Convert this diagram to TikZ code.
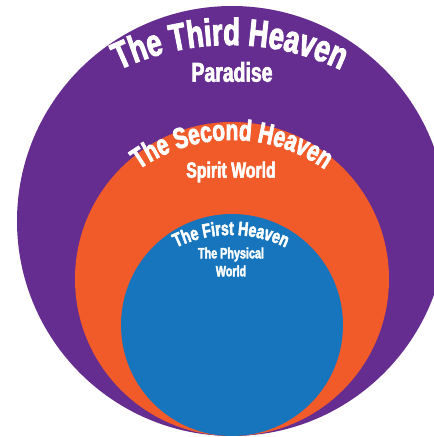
\documentclass[tikz,border=0pt]{standalone}
\usepackage{fontspec}
\usetikzlibrary{decorations.text}
\newfontfamily\heavyfont[FakeStretch=0.72,FakeBold=2.5]{Liberation Sans}
\definecolor{purp}{RGB}{101,45,144}
\definecolor{orng}{RGB}{241,90,41}
\definecolor{blu}{RGB}{22,117,188}
\newcommand{\thirdfont}{\heavyfont\bfseries\fontsize{38}{38}\selectfont}
\newcommand{\secondfont}{\heavyfont\bfseries\fontsize{29}{29}\selectfont}
\newcommand{\firstfont}{\heavyfont\bfseries\fontsize{19.5}{19.5}\selectfont}
\tikzset{
  lbl/.style={text=white, inner sep=0pt, align=center},
  arctext/.style={decorate, decoration={text along path, text align=center, text color=white, text={#1}}}
}
\begin{document}
\begin{tikzpicture}[x=1pt,y=1pt]
\useasboundingbox (0,0) rectangle (434,437);
\clip (0,0) rectangle (434,437);
\fill[purp] (232,216) circle[radius=215pt];
\fill[orng] (232,158) circle[radius=157pt];
\fill[blu] (232,112) circle[radius=111pt];
% curved titles
\path[arctext={|\thirdfont|The Third Heaven}] (230,134) ++(140:258pt) arc[start angle=140, end angle=40, radius=258pt];
\path[arctext={|\secondfont|The Second Heaven}] (232,136) ++(140:161pt) arc[start angle=140, end angle=40, radius=161pt];
\path[arctext={|\firstfont|The First Heaven}] (231,77) ++(140:125pt) arc[start angle=140, end angle=40, radius=125pt];
% subtitles
\node[lbl, font=\heavyfont\bfseries\fontsize{27}{27}\selectfont] (paradise) at (232,365) {Paradise};
\node[lbl, font=\heavyfont\bfseries\fontsize{22}{22}\selectfont] (spirit) at (231,265) {Spirit World};
\node[lbl, font=\heavyfont\bfseries\fontsize{15}{18}\selectfont] (physical) at (231,175) {The Physical\\World};
\end{tikzpicture}
\end{document}
